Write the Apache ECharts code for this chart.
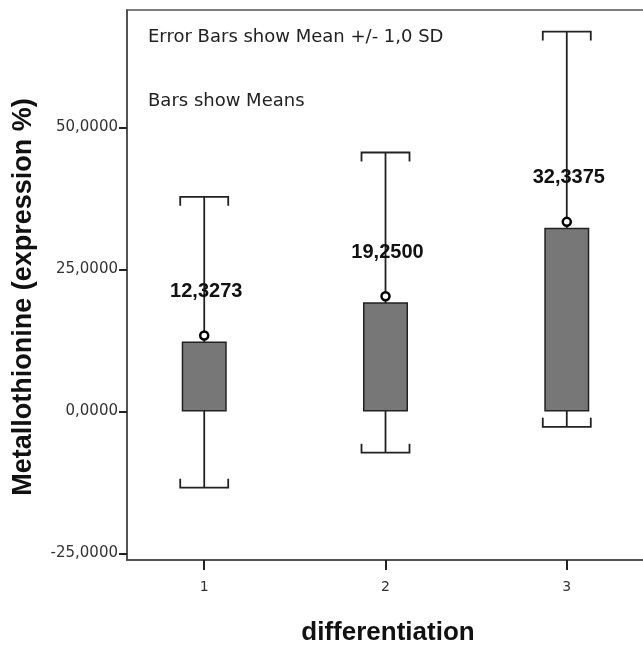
<!DOCTYPE html>
<html>
<head>
<meta charset="utf-8">
<script src="https://cdn.jsdelivr.net/npm/echarts@6/dist/echarts.min.js"></script>
<style>
html,body{margin:0;padding:0;background:#fff;}
#chart{width:643px;height:645px;}
</style>
</head>
<body>
<div id="chart"></div>
<script>
// Data
const categories = [1, 2, 3];
const means = [12.3273, 19.2500, 32.3375];
const errLow = [-13.4, -7.25, -2.7];
const errHigh = [37.8, 45.6, 66.9];
const yTicks = [-25, 0, 25, 50];
const annotations = ['Error Bars show Mean +/- 1,0 SD', 'Bars show Means'];
const xTitle = 'differentiation';
const yTitle = 'Metallothionine (expression %)';

const fmt = v => v.toFixed(4).replace('.', ',');

const chart = echarts.init(document.getElementById('chart'), null, {renderer: 'canvas'});

const barData = categories.map((c, i) => [c, means[i]]);
const errData = categories.map((c, i) => [c, errLow[i], errHigh[i]]);

const option = {
  animation: false,
  backgroundColor: '#fff',
  grid: {
    left: 127, top: 10, right: -3, bottom: 85,
    show: true, borderColor: '#555', borderWidth: 1.5,
    outerBoundsMode: 'none'
  },
  xAxis: {
    type: 'value', min: 0.574, max: 3.437,
    axisLine: {show: true, onZero: false, lineStyle: {color: '#444', width: 1.5}},
    axisTick: {show: true, customValues: categories, length: 10, lineStyle: {color: '#222', width: 2}},
    axisLabel: {show: true, customValues: categories, margin: 20, fontFamily: 'DejaVu Sans', fontSize: 14, color: '#333',
      formatter: v => String(v)},
    splitLine: {show: false}
  },
  yAxis: {
    type: 'value', min: -26.14, max: 70.69,
    axisLine: {show: true, onZero: false, lineStyle: {color: '#444', width: 1.5}},
    axisTick: {show: true, customValues: yTicks, length: 8, lineStyle: {color: '#222', width: 2}},
    axisLabel: {show: true, customValues: yTicks, margin: 9, fontFamily: 'DejaVu Sans', fontSize: 15, color: '#333',
      formatter: v => fmt(v)},
    splitLine: {show: false}
  },
  graphic: [
    {type: 'text', left: 148, top: 28, style: {text: annotations[0], font: '18px "DejaVu Sans"', fill: '#222'}},
    {type: 'text', left: 148, top: 92, style: {text: annotations[1], font: '18px "DejaVu Sans"', fill: '#222'}},
    {type: 'text', x: 24, y: 297, rotation: Math.PI / 2,
      style: {text: yTitle, font: 'bold 27px "Liberation Sans"', fill: '#111', align: 'center', verticalAlign: 'middle'}},
    {type: 'text', x: 388, y: 633,
      style: {text: xTitle, font: 'bold 26px "Liberation Sans"', fill: '#111', align: 'center', verticalAlign: 'middle'}}
  ],
  series: [
    {
      type: 'custom',
      z: 1,
      data: errData,
      renderItem: function (params, api) {
        const x = api.value(0);
        const top = api.coord([x, api.value(2)]);
        const bot = api.coord([x, api.value(1)]);
        const half = 24, tk = 9;
        const style = {stroke: '#222', lineWidth: 1.8, fill: null};
        return {
          type: 'group',
          children: [
            {type: 'line', shape: {x1: top[0], y1: top[1], x2: bot[0], y2: bot[1]}, style: style},
            {type: 'polyline', shape: {points: [[top[0] - half, top[1] + tk], [top[0] - half, top[1]], [top[0] + half, top[1]], [top[0] + half, top[1] + tk]]}, style: style},
            {type: 'polyline', shape: {points: [[bot[0] - half, bot[1] - tk], [bot[0] - half, bot[1]], [bot[0] + half, bot[1]], [bot[0] + half, bot[1] - tk]]}, style: style}
          ]
        };
      }
    },
    {
      type: 'bar',
      z: 2,
      barWidth: 45,
      data: barData,
      itemStyle: {color: '#777', borderColor: '#222', borderWidth: 1.5}
    },
    {
      type: 'scatter',
      z: 3,
      data: barData,
      symbol: 'circle',
      symbolSize: 8,
      symbolOffset: [0, -6],
      itemStyle: {color: '#fff', borderColor: '#000', borderWidth: 2.5, opacity: 1},
      label: {
        show: true, position: 'inside', offset: [2, -44],
        formatter: p => fmt(p.value[1]),
        fontFamily: 'Liberation Sans', fontWeight: 'bold', fontSize: 20, color: '#111'
      }
    }
  ]
};
chart.setOption(option);
</script>
</body>
</html>
